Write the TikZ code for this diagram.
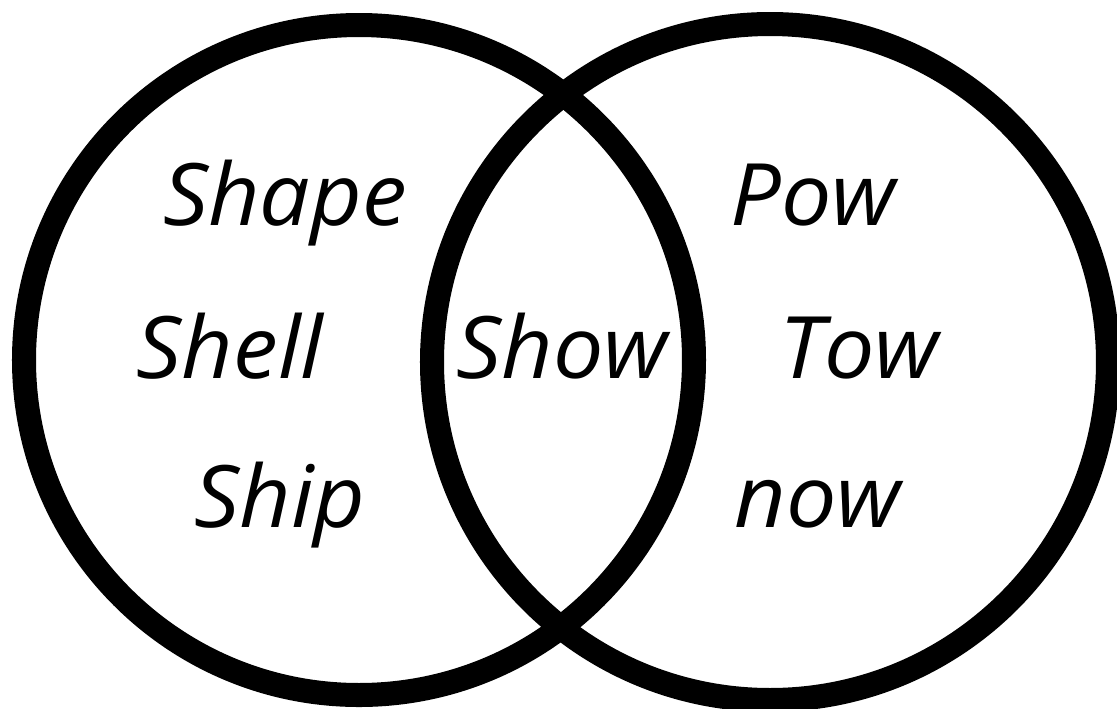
\documentclass[tikz,border=0pt]{standalone}
\usepackage{fontspec}
\setmainfont{Open Sans}
\usetikzlibrary{positioning}
\begin{document}
\begin{tikzpicture}[x=0.01cm,y=-0.01cm,
  ring/.style={line width=0.24cm},
  word/.style={anchor=base,inner sep=0pt,xscale=1.04,font=\itshape\fontsize{24.5}{29}\selectfont}]
\useasboundingbox(0,0)rectangle(1117,708);
\draw[ring](359,360)circle[radius=335];
\draw[ring](770,362)circle[radius=338];
\node[word](shape)at(285,225){Shape};
\node[word](shell)at(230,378){Shell};
\node[word](ship)at(280,527){Ship};
\node[word](show)at(562,378){Show};
\node[word](pow)at(813,225){Pow};
\node[word](tow)at(859,378){Tow};
\node[word](now)at(818,527){now};
\end{tikzpicture}
\end{document}
